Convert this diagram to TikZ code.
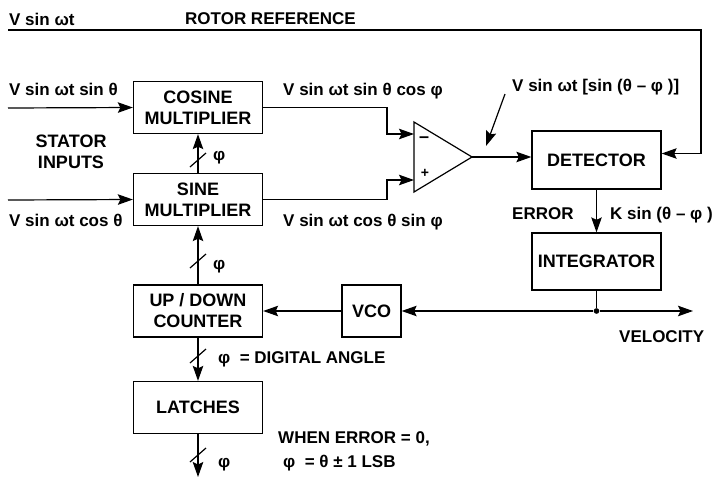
\documentclass[tikz,border=0pt]{standalone}
\usepackage{fontspec}
\setmainfont{Liberation Sans}
\usetikzlibrary{positioning,arrows.meta,calc}
\tikzset{
  sig/.style={-{Stealth[length=15pt,width=10.5pt,inset=2.5pt]},line width=1.2pt},
  wire/.style={line width=1.2pt},
  blk/.style={draw,line width=1.3pt,minimum width=129pt,minimum height=52pt,inner sep=0pt,
    align=center,font=\fontsize{18}{21}\selectfont\bfseries},
  lbl/.style={anchor=base west,inner sep=0pt,font=\fontsize{17}{20}\selectfont\bfseries},
  pt/.style={circle,fill=black,inner sep=2pt},
  slash/.style={line width=1.2pt},
}
\begin{document}
\begin{tikzpicture}[x=1pt,y=-1pt]
  \useasboundingbox (0,0) rectangle (712,477);
  % blocks
  \node[blk] (cosm) at (198,107.5) {COSINE\\MULTIPLIER};
  \node[blk] (sinm) at (198,199.5) {SINE\\MULTIPLIER};
  \node[blk] (cnt) at (198,311) {UP / DOWN\\COUNTER};
  \node[blk] (lat) at (198,407.5) {LATCHES};
  \node[blk,minimum width=59pt] (vco) at (371.5,311) {VCO};
  \node[blk,minimum height=58pt] (det) at (596.5,160) {DETECTOR};
  \node[blk,minimum height=57pt] (integ) at (596.5,261.5) {INTEGRATOR};
  % op amp
  \coordinate (ampa) at (414,122);
  \coordinate (ampb) at (414,192);
  \coordinate (ampo) at (472,157);
  \draw[line width=1.2pt,line join=miter] (ampa)--(ampo)--(ampb)--cycle;
  \node[inner sep=0pt,font=\fontsize{18}{20}\selectfont\bfseries] (ampm) at (424,140) {–};
  \node[inner sep=0pt,font=\fontsize{14}{20}\selectfont\bfseries] (ampp) at (425,173) {+};
  \coordinate (ampin) at (414,134);
  \coordinate (ampip) at (414,180);
  % stator inputs
  \coordinate (sa) at (8,108);
  \coordinate (sb) at (8,200);
  \draw[sig] (sa)--(cosm.west);
  \draw[sig] (sb)--(sinm.west);
  % multiplier outputs
  \draw[sig] (cosm.east)-|(387,134)--(ampin);
  \draw[sig] (sinm.east)-|(387,180)--(ampip);
  \draw[sig] (ampo)--(ampo-|det.west);
  % rotor reference
  \coordinate (ra) at (8,30);
  \coordinate (rb) at (701,30);
  \coordinate (rc) at (701,153.5);
  \draw[sig] (ra)--(rb)--(rc)--(rc-|det.east);
  % pointer to amp output
  \coordinate (pa) at (505,94);
  \coordinate (pb) at (486,146);
  \draw[sig] (pa)--(pb);
  % error path and velocity
  \draw[sig] (det.south)--(integ.north);
  \node[pt] (vn) at (integ.south|-cnt) {};
  \coordinate (ve) at (693,311);
  \draw[wire] (integ.south)--(vn);
  \draw[sig] (vn)--(vco.east);
  \draw[sig] (vn)--(ve);
  \draw[sig] (vco.west)--(cnt.east);
  % digital buses
  \coordinate (oe) at (198,477);
  \coordinate (s1) at (198,160);
  \coordinate (s2) at (198,261);
  \coordinate (s3) at (198,356);
  \coordinate (s4) at (198,455);
  \draw[sig] (sinm.north)--(cosm.south);
  \draw[sig] (cnt.north)--(sinm.south);
  \draw[sig] (cnt.south)--(lat.north);
  \draw[sig] (lat.south)--(oe);
  \foreach \c in {s1,s2,s3,s4}{
    \draw[slash] ($(\c)+(-8,7)$)--($(\c)+(8,-7)$);
  }
  % labels
  \node[lbl] (l1) at (9,25) {V sin ωt};
  \node[lbl] (l2) at (185,24) {ROTOR REFERENCE};
  \node[lbl] (l3) at (9,95) {V sin ωt sin θ};
  \node[lbl] (l4) at (9,226) {V sin ωt cos θ};
  \node[lbl,anchor=center,align=center,font=\fontsize{18}{21}\selectfont\bfseries] (l5) at (71,152) {STATOR\\INPUTS};
  \node[lbl] (l6) at (283,95) {V sin ωt sin θ cos φ};
  \node[lbl] (l7) at (283,226) {V sin ωt cos θ sin φ};
  \node[lbl] (l8) at (512,91) {V sin ωt [sin (θ – φ )]};
  \node[lbl] (l9) at (512,219) {ERROR};
  \node[lbl] (l10) at (610,219) {K sin (θ – φ )};
  \node[lbl] (l11) at (213,160) {φ};
  \node[lbl] (l12) at (213,269) {φ};
  \node[lbl] (l13) at (218,363) {φ\ \ = DIGITAL ANGLE};
  \node[lbl] (l14) at (619,342) {VELOCITY};
  \node[lbl] (l15) at (278,443) {WHEN ERROR = 0,};
  \node[lbl] (l16) at (283,467) {φ\ \ = θ ± 1 LSB};
  \node[lbl] (l17) at (218,467) {φ};
\end{tikzpicture}
\end{document}
